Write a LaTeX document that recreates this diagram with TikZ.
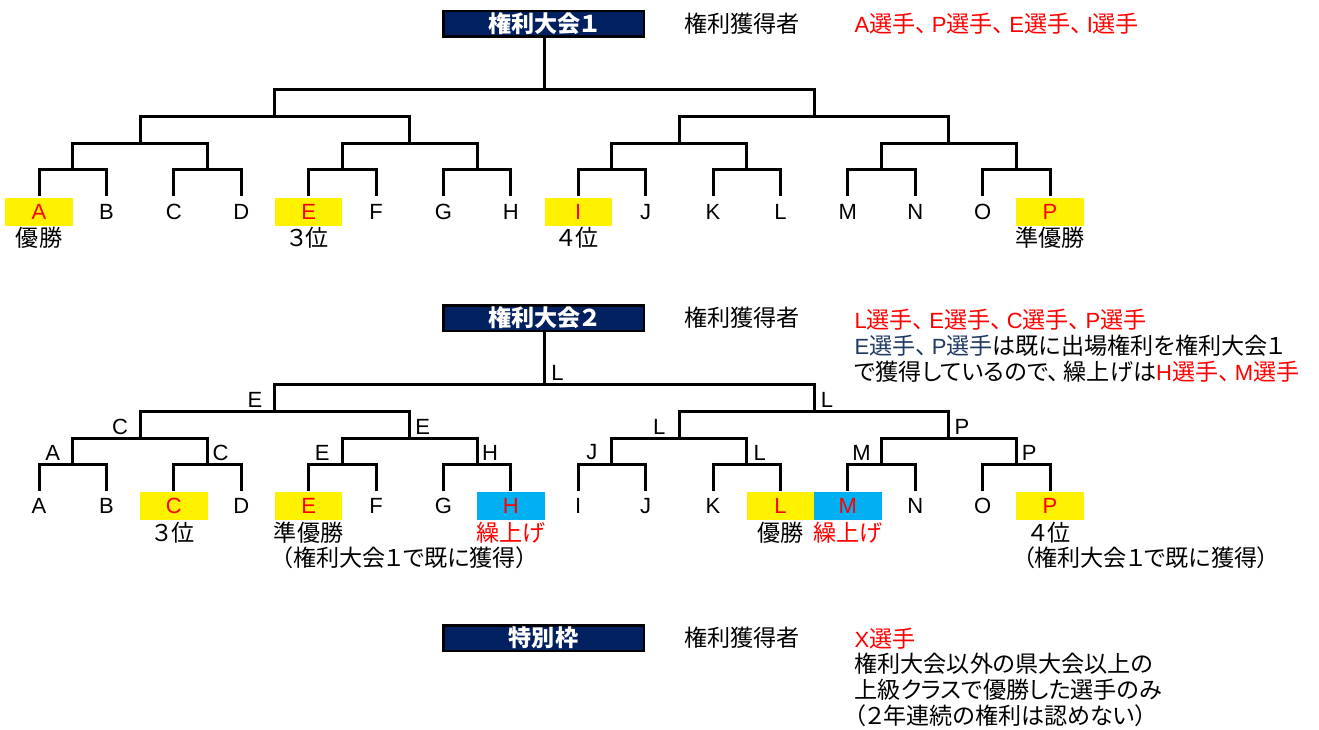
\documentclass[tikz,border=0pt]{standalone}
\usepackage{fontspec}
\setmainfont{Liberation Sans}
\newfontfamily\cjk[Scale=1.05,RawFeature=+palt]{Noto Sans CJK JP}
\newcommand\J[1]{{\cjk #1}}
\newcommand\tn{\J{、}\hspace{5pt}}
\definecolor{navy}{HTML}{002060}
\definecolor{skyb}{HTML}{00B0F0}
\definecolor{dblue}{HTML}{203864}
\begin{document}
\begin{tikzpicture}[x=1pt,y=-1pt,line width=3pt,line join=miter,
  every node/.style={font=\fontsize{22}{26}\selectfont, inner sep=0pt},
  leaf/.style={minimum width=67.4pt, minimum height=28pt},
  hl/.style={leaf, fill=yellow, text=red},
  hb/.style={leaf, fill=skyb, text=red},
  hdr/.style={draw=black, line width=2.5pt, fill=navy, text=white,
    font=\fontsize{22}{26}\selectfont\bfseries, minimum width=200.5pt, minimum height=25.5pt},
  txt/.style={anchor=west},
  redtxt/.style={anchor=west, text=red}]
\useasboundingbox (0,0) rectangle (1319,730);

% header boxes and texts
\node[hdr] (h1) at (543.5,24) {\J{権利大会１}};
\node[txt] (g1) at (683,24) {\J{権利獲得者}};
\node[redtxt] (r1) at (853,24) {A\J{選手}\tn P\J{選手}\tn E\J{選手}\tn I\J{選手}};

\node[hdr] (h2) at (543.5,318) {\J{権利大会２}};
\node[txt] (g2) at (683,318) {\J{権利獲得者}};
\node[redtxt] (r2a) at (853,320) {L\J{選手}\tn E\J{選手}\tn C\J{選手}\tn P\J{選手}};
\node[txt] (r2b) at (853,346) {\textcolor{dblue}{E\J{選手}\tn P\J{選手}}\J{は既に出場権利を権利大会１}};
\node[txt] (r2c) at (853,372) {\J{で獲得しているので}\tn\J{繰上げは}\textcolor{red}{H\J{選手}\tn M\J{選手}}};

\node[hdr] (h3) at (543.5,638) {\J{特別枠}};
\node[txt] (g3) at (683,638) {\J{権利獲得者}};
\node[redtxt] (r3a) at (853,639) {X\J{選手}};
\node[txt] (r3b) at (853,664) {\J{権利大会以外の県大会以上の}};
\node[txt] (r3c) at (853,690) {\J{上級クラスで優勝した選手のみ}};
\node[txt] (r3d) at (853,716) {\J{（２年連続の権利は認めない）}};

% leaves
\foreach \i/\t/\s in {0/A/hl,1/B/leaf,2/C/leaf,3/D/leaf,4/E/hl,5/F/leaf,6/G/leaf,7/H/leaf,
  8/I/hl,9/J/leaf,10/K/leaf,11/L/leaf,12/M/leaf,13/N/leaf,14/O/leaf,15/P/hl}
  \node[\s] (b1-0-\i) at ({39+67.4*\i},212) {\t};
\foreach \i/\t/\s in {0/A/leaf,1/B/leaf,2/C/hl,3/D/leaf,4/E/hl,5/F/leaf,6/G/leaf,7/H/hb,
  8/I/leaf,9/J/leaf,10/K/leaf,11/L/hl,12/M/hb,13/N/leaf,14/O/leaf,15/P/hl}
  \node[\s] (b2-0-\i) at ({39+67.4*\i},506) {\t};

% brackets
\foreach \bk/\dy in {1/0,2/294}{
  \foreach \j in {0,...,7} \coordinate (b\bk-1-\j) at ({39+67.4*(2*\j+0.5)},170+\dy);
  \foreach \j in {0,...,3} \coordinate (b\bk-2-\j) at ({39+67.4*(4*\j+1.5)},144+\dy);
  \foreach \j in {0,1} \coordinate (b\bk-3-\j) at ({39+67.4*(8*\j+3.5)},117+\dy);
  \coordinate (b\bk-4-0) at ({39+67.4*7.5},90+\dy);
  \foreach \j [evaluate=\j as \l using int(2*\j), evaluate=\j as \r using int(2*\j+1)] in {0,...,7}
    \draw (b\bk-0-\l.north) |- (b\bk-1-\j) -| (b\bk-0-\r.north);
  \foreach \j [evaluate=\j as \l using int(2*\j), evaluate=\j as \r using int(2*\j+1)] in {0,...,3}
    \draw (b\bk-1-\l) |- (b\bk-2-\j) -| (b\bk-1-\r);
  \foreach \j [evaluate=\j as \l using int(2*\j), evaluate=\j as \r using int(2*\j+1)] in {0,1}
    \draw (b\bk-2-\l) |- (b\bk-3-\j) -| (b\bk-2-\r);
  \draw (b\bk-3-0) |- (b\bk-4-0) -| (b\bk-3-1);
  \draw (b\bk-4-0) -- (b\bk-4-0 |- h\bk.south);
}

% winner labels (bracket 2)
\foreach \c/\t in {b2-1-0/A,b2-1-2/E,b2-1-4/J,b2-1-6/M,b2-2-0/C,b2-2-2/L,b2-3-0/E}
  \node (w-\c) at ([xshift=-20pt,yshift=11.5pt]\c) {\t};
\foreach \c/\t in {b2-1-1/C,b2-1-3/H,b2-1-5/L,b2-1-7/P,b2-2-1/E,b2-2-3/P,b2-3-1/L,b2-4-0/L}
  \node (w-\c) at ([xshift=13pt,yshift=11.5pt]\c) {\t};

% result labels bracket 1
\node (s1a) at ([yshift=-26pt]b1-0-0) {\J{優勝}};
\node (s1e) at ([yshift=-26pt]b1-0-4) {\J{３位}};
\node (s1i) at ([yshift=-26pt]b1-0-8) {\J{４位}};
\node (s1p) at ([yshift=-26pt]b1-0-15) {\J{準優勝}};

% result labels bracket 2
\node (s2c) at ([yshift=-27pt]b2-0-2) {\J{３位}};
\node (s2e) at ([yshift=-27pt]b2-0-4) {\J{準優勝}};
\node[text=red] (s2h) at ([yshift=-27pt]b2-0-7) {\J{繰上げ}};
\node (s2l) at ([yshift=-27pt]b2-0-11) {\J{優勝}};
\node[text=red] (s2m) at ([yshift=-27pt]b2-0-12) {\J{繰上げ}};
\node (s2p) at ([yshift=-27pt]b2-0-15) {\J{４位}};
\node (n2e) at ([xshift=96pt,yshift=-52pt]b2-0-4) {\J{（権利大会１で既に獲得）}};
\node (n2p) at ([xshift=96pt,yshift=-52pt]b2-0-15) {\J{（権利大会１で既に獲得）}};
\end{tikzpicture}
\end{document}
